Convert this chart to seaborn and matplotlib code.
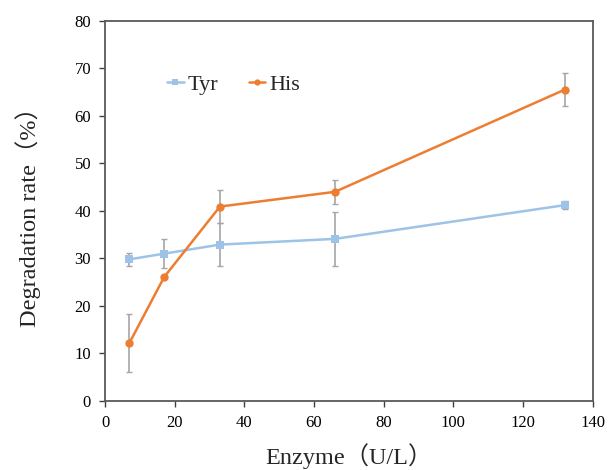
import pandas as pd
import matplotlib
matplotlib.use('Agg')
import matplotlib.pyplot as plt
import seaborn as sns

# Data
enzyme = [7, 17, 33, 66, 132]
tyr = [29.8, 31.0, 32.9, 34.1, 41.2]
tyr_err = [1.4, 3.0, 4.5, 5.6, 0.8]
his = [12.2, 26.1, 40.9, 44.0, 65.5]
his_err = [6.0, 0.0, 3.5, 2.5, 3.5]

df = pd.DataFrame({'enzyme': enzyme * 2,
                   'rate': tyr + his,
                   'series': ['Tyr'] * 5 + ['His'] * 5})

sns.set_style('ticks')
plt.rcParams['font.family'] = ['Liberation Serif', 'Noto Sans CJK SC']

colors = {'Tyr': '#9DC3E6', 'His': '#ED7D31'}

fig = plt.figure(figsize=(6.08, 4.70), dpi=100)
ax = fig.add_axes([0.1727, 0.1468, 0.8021, 0.8092])

ax.errorbar(enzyme, tyr, yerr=tyr_err, fmt='none', ecolor='#A6A6A6',
            elinewidth=1.2, capsize=2.5, capthick=1, zorder=1)
ax.errorbar(enzyme, his, yerr=his_err, fmt='none', ecolor='#A6A6A6',
            elinewidth=1.2, capsize=2.5, capthick=1, zorder=1)

sns.lineplot(data=df, x='enzyme', y='rate', hue='series', style='series',
             palette=colors, markers={'Tyr': 's', 'His': 'o'}, dashes=False,
             markersize=6, markeredgewidth=0, linewidth=1.8, ax=ax, zorder=3)

ax.set_xlim(0, 140)
ax.set_ylim(0, 80)
ax.set_xticks(range(0, 141, 20))
ax.set_yticks(range(0, 81, 10))
ax.tick_params(labelsize=12, length=4, width=1, colors='#404040',
               labelcolor='black', direction='out', pad=6)
for sp in ax.spines.values():
    sp.set_color('#595959')
    sp.set_linewidth(1.3)
ax.tick_params(top=False, right=False)

ax.set_xlabel('Enzyme（U/L）', fontsize=17.5, labelpad=9)
ax.set_ylabel('Degradation rate（%）', fontsize=17.5, labelpad=24)

leg = ax.legend(loc='center left', bbox_to_anchor=(0.127, 0.831), ncol=2,
                frameon=False, fontsize=16, handlelength=0.75,
                handletextpad=0.2, columnspacing=1.35, markerscale=0.75,
                borderpad=0, borderaxespad=0)
leg.set_title(None)

fig.savefig('out.png', dpi=100)
